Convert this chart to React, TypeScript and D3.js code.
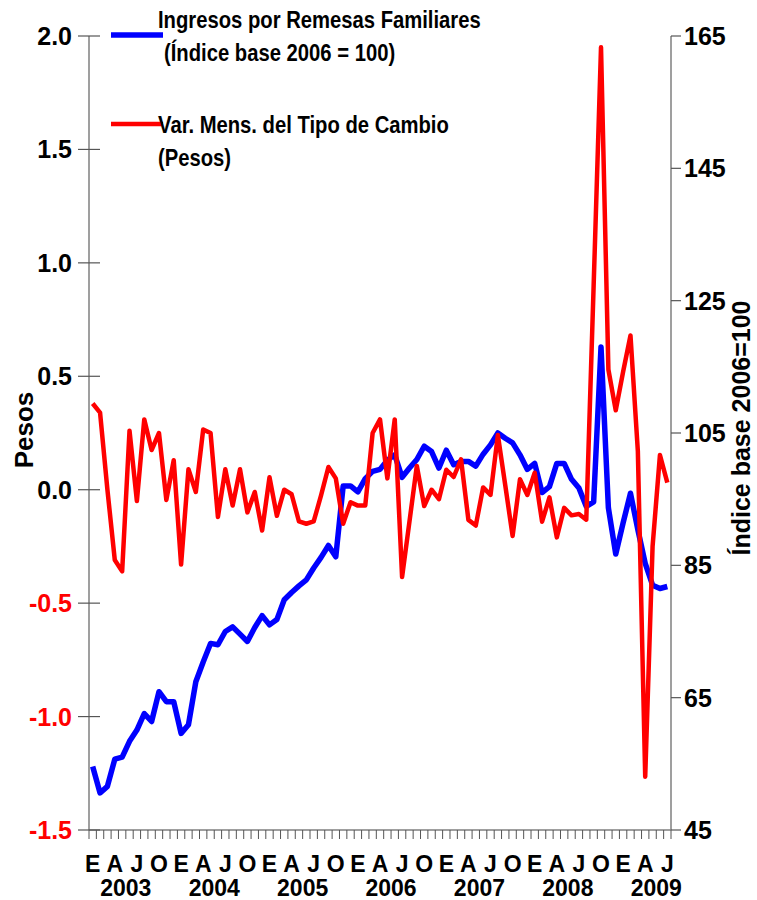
import React from "react";
import * as d3 from "d3";

const months: number[] = d3.range(79); // Ene 2003 .. Jul 2009
const monthLetters = ["E", "A", "J", "O"];
const years = ["2003", "2004", "2005", "2006", "2007", "2008", "2009"];
const leftTicks = [-1.5, -1.0, -0.5, 0.0, 0.5, 1.0, 1.5, 2.0];
const rightTicks = [45, 65, 85, 105, 125, 145, 165];

// Var. Mens. del Tipo de Cambio (Pesos)
const tipoCambio = [
  0.38, 0.34, 0.0, -0.31, -0.36, 0.26, -0.05, 0.31, 0.175, 0.25, -0.045, 0.13,
  -0.33, 0.09, -0.01, 0.265, 0.25, -0.12, 0.09, -0.07, 0.09, -0.1, -0.01, -0.18,
  0.055, -0.115, 0.0, -0.02, -0.14, -0.15, -0.14, -0.025, 0.1, 0.05, -0.15, -0.055,
  -0.07, -0.07, 0.25, 0.31, 0.05, 0.31, -0.385, -0.14, 0.105, -0.072, 0.0, -0.042,
  0.088, 0.056, 0.134, -0.133, -0.158, 0.01, -0.023, 0.241, 0.02, -0.204, 0.046, -0.023,
  0.075, -0.141, -0.034, -0.21, -0.08, -0.113, -0.107, -0.132, 0.9, 1.95, 0.53, 0.35,
  0.52, 0.68, 0.17, -1.265, -0.25, 0.153, 0.031,
];

// Ingresos por Remesas Familiares (Índice base 2006 = 100)
const remesas = [
  54.6, 50.6, 51.6, 55.7, 56.0, 58.4, 60.1, 62.6, 61.4, 65.9, 64.4, 64.4,
  59.6, 60.9, 67.4, 70.4, 73.2, 73.0, 75.0, 75.7, 74.6, 73.5, 75.6, 77.4,
  76.0, 76.8, 79.8, 80.9, 81.9, 82.8, 84.6, 86.2, 88.0, 86.3, 97.0, 97.0,
  96.1, 98.1, 99.2, 99.5, 100.9, 101.7, 98.3, 99.7, 101.0, 103.0, 102.2, 99.7,
  102.4, 100.2, 100.7, 100.7, 100.0, 101.8, 103.2, 105.0, 104.2, 103.5, 101.7, 99.5,
  100.4, 96.0, 96.9, 100.4, 100.4, 98.0, 96.7, 93.9, 94.6, 118.0, 93.7, 86.7,
  91.4, 95.9, 90.4, 85.3, 82.0, 81.5, 81.8,
];

const FONT = "'Liberation Sans', Arial, sans-serif";

export default function App() {
  const W = 757, H = 900;
  const left = 89, right = 671, top = 36, bottom = 830;

  const x = d3.scaleBand<number>().domain(months).range([left, right]).padding(0);
  const bw = x.bandwidth();
  const cx = (i: number) => (x(i) as number) + bw / 2;
  const yL = d3.scaleLinear().domain([-1.5, 2.0]).range([bottom, top]);
  const yR = d3.scaleLinear().domain([45, 165]).range([bottom, top]);

  const redLine = d3.line<number>().x((_, i) => cx(i)).y((d) => yL(d)).curve(d3.curveLinear);
  const blueLine = d3.line<number>().x((_, i) => cx(i)).y((d) => yR(d)).curve(d3.curveLinear);

  const axisColor = "#7f7f7f";
  const legendText = (tx: number, ty: number, s: string) => (
    <text transform={`translate(${tx}, ${ty}) scale(0.88, 1)`} fontSize={23} fill="#000">
      {s}
    </text>
  );

  return (
    <svg width={W} height={H} style={{ position: "absolute", left: 0, top: 0, background: "#fff" }} fontFamily={FONT} fontWeight="bold">
      {/* axes */}
      <line x1={left} x2={left} y1={top} y2={bottom} stroke={axisColor} strokeWidth={1.5} />
      <line x1={right} x2={right} y1={top} y2={bottom} stroke={axisColor} strokeWidth={1.5} />
      <line x1={left} x2={right} y1={bottom} y2={bottom} stroke={axisColor} strokeWidth={1.5} />

      {/* left ticks */}
      {leftTicks.map((t) => (
        <g key={"l" + t}>
          <line x1={left - 11} x2={left + 11} y1={yL(t)} y2={yL(t)} stroke="#555" strokeWidth={1.2} />
          <text x={72} y={yL(t)} dy="0.36em" textAnchor="end" fontSize={25} fill={t < 0 ? "#ff0000" : "#000"}>
            {d3.format(".1f")(t).replace("−", "-")}
          </text>
        </g>
      ))}

      {/* right ticks */}
      {rightTicks.map((t) => (
        <g key={"r" + t}>
          <line x1={right} x2={right + 10} y1={yR(t)} y2={yR(t)} stroke="#555" strokeWidth={1.2} />
          <text x={684} y={yR(t)} dy="0.36em" textAnchor="start" fontSize={25} fill="#000">
            {t}
          </text>
        </g>
      ))}

      {/* bottom minor ticks */}
      {d3.range(months.length + 1).map((i) => (
        <line key={"b" + i} x1={left + i * bw} x2={left + i * bw} y1={bottom} y2={bottom + 9} stroke="#555" strokeWidth={1} />
      ))}

      {/* month letters */}
      {months.filter((m) => m % 3 === 0).map((m) => (
        <text key={"m" + m} x={cx(m)} y={872} textAnchor="middle" fontSize={23} fill="#000">
          {monthLetters[(m % 12) / 3]}
        </text>
      ))}
      {years.map((yr, k) => (
        <text key={yr} x={x(k * 12 + 5) as number} y={896} textAnchor="middle" fontSize={23} fill="#000">
          {yr}
        </text>
      ))}

      {/* axis titles */}
      <text transform={`translate(33, 430) rotate(-90)`} textAnchor="middle" fontSize={26} fill="#000">
        Pesos
      </text>
      <text transform={`translate(750, 428) rotate(-90)`} textAnchor="middle" fontSize={25} fill="#000">
        Índice base 2006=100
      </text>

      {/* series */}
      <path d={blueLine(remesas) as string} fill="none" stroke="#0000ff" strokeWidth={5.5} strokeLinejoin="round" />
      <path d={redLine(tipoCambio) as string} fill="none" stroke="#ff0000" strokeWidth={4.5} strokeLinejoin="round" />

      {/* legend */}
      <line x1={111} x2={163} y1={35} y2={35} stroke="#0000ff" strokeWidth={5.5} />
      <line x1={111} x2={163} y1={124} y2={124} stroke="#ff0000" strokeWidth={4.5} />
      {legendText(158, 28, "Ingresos por Remesas Familiares")}
      {legendText(164, 61, "(Índice base 2006 = 100)")}
      {legendText(158, 133, "Var. Mens. del Tipo de Cambio")}
      {legendText(158, 166, "(Pesos)")}
    </svg>
  );
}
